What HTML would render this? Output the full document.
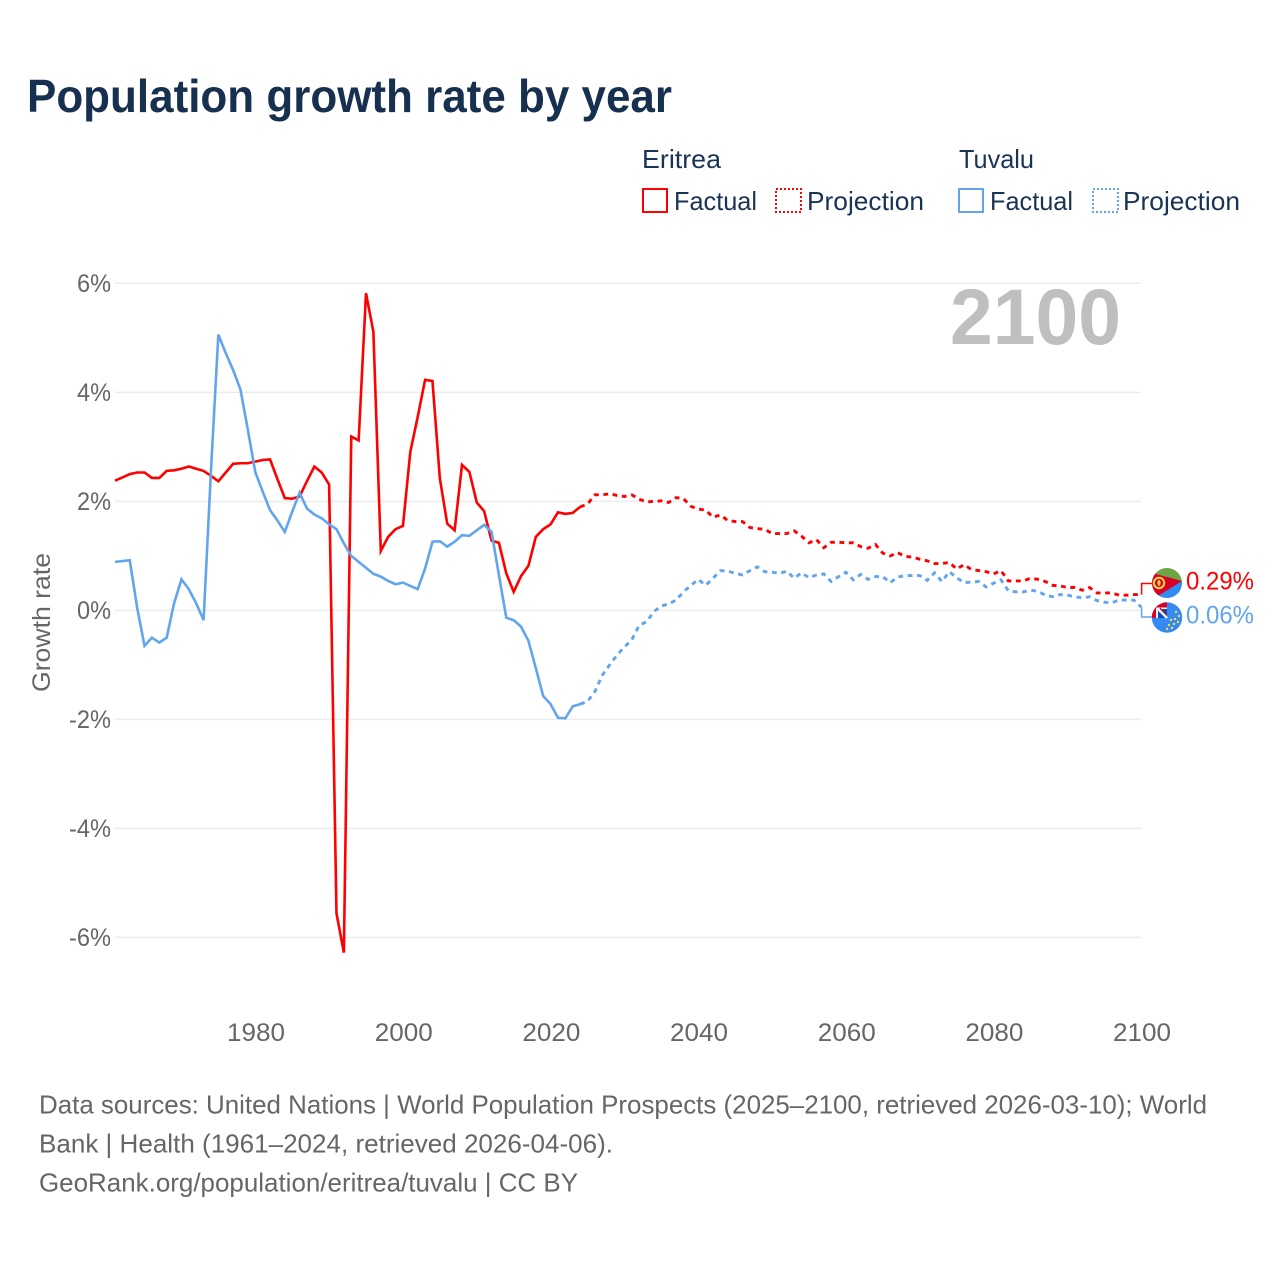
<!DOCTYPE html>
<html lang="en">
<head>
<meta charset="utf-8">
<title>Population growth rate by year</title>
<style>
html,body{margin:0;padding:0;background:#fff;width:1280px;height:1280px;overflow:hidden}
svg{display:block}
text{font-family:"Liberation Sans",sans-serif}
.legend{font-size:26px;fill:#1a3355}
.tick{font-size:25px;fill:#666}
.foot{font-size:26px;fill:#666}
</style>
</head>
<body>
<svg id="chart" xmlns="http://www.w3.org/2000/svg" width="1280" height="1280" viewBox="0 0 1280 1280">
  <rect width="1280" height="1280" fill="#fff"/>
  <text x="27" y="112" font-size="46" font-weight="700" fill="#17304f" textLength="645" lengthAdjust="spacingAndGlyphs">Population growth rate by year</text>

  <g>
    <text class="legend" x="642" y="168" textLength="79" lengthAdjust="spacingAndGlyphs">Eritrea</text>
    <text class="legend" x="959" y="168" textLength="75" lengthAdjust="spacingAndGlyphs">Tuvalu</text>
    <rect x="643" y="189" width="24" height="23" fill="none" stroke="#ff0000" stroke-width="2"/>
    <text class="legend" x="674" y="210" textLength="83" lengthAdjust="spacingAndGlyphs">Factual</text>
    <rect x="776" y="189" width="25" height="23" fill="none" stroke="#ff0000" stroke-width="2" stroke-dasharray="2 2"/>
    <text class="legend" x="807" y="210" textLength="117" lengthAdjust="spacingAndGlyphs">Projection</text>
    <rect x="959" y="189" width="24" height="23" fill="none" stroke="#62a5ee" stroke-width="2"/>
    <text class="legend" x="990" y="210" textLength="83" lengthAdjust="spacingAndGlyphs">Factual</text>
    <rect x="1093" y="189" width="25" height="23" fill="none" stroke="#62a5ee" stroke-width="2" stroke-dasharray="2 2"/>
    <text class="legend" x="1123" y="210" textLength="117" lengthAdjust="spacingAndGlyphs">Projection</text>
  </g>

  <g id="grid"></g>
  <g id="yticks"></g>
  <g id="xticks"></g>

  <text class="tick" transform="translate(50,622.5) rotate(-90)" text-anchor="middle" textLength="139" lengthAdjust="spacingAndGlyphs">Growth rate</text>
  <text x="950" y="344" font-size="79" font-weight="700" fill="#bfbfbf" textLength="171" lengthAdjust="spacingAndGlyphs">2100</text>

  <g id="series"></g>

  <g id="endcaps">
    <g>
      <clipPath id="clipE"><circle cx="1167" cy="583" r="15"/></clipPath>
      <g clip-path="url(#clipE)">
        <rect x="1152" y="568" width="30" height="14" fill="#6da544"/>
        <rect x="1152" y="581" width="30" height="17" fill="#338af3"/>
        <polygon points="1150,572.5 1182,581 1150,601" fill="#d80027"/>
        <circle cx="1159" cy="583" r="5.2" fill="none" stroke="#ffda44" stroke-width="2"/>
        <ellipse cx="1159" cy="583" rx="1.6" ry="3" fill="#ffda44"/>
      </g>
    </g>
    <g>
      <clipPath id="clipT"><circle cx="1167" cy="617.5" r="15.2"/></clipPath>
      <g clip-path="url(#clipT)">
        <rect x="1151" y="602" width="32" height="32" fill="#338af3"/>
        <rect x="1151" y="602" width="16" height="16" fill="#f0f0f0"/>
        <rect x="1151" y="602" width="16" height="5.5" fill="#d80027"/>
        <rect x="1151" y="602" width="5" height="16" fill="#d80027"/>
        <polygon points="1158,609 1167,609 1167,618 1158,618" fill="#0052b4"/>
        <line x1="1157" y1="608" x2="1167" y2="618" stroke="#f0f0f0" stroke-width="2.5"/>
        <line x1="1160" y1="608" x2="1167" y2="615" stroke="#d80027" stroke-width="1.2"/>
        <g fill="#ffda44">
          <circle cx="1176" cy="612" r="1.2"/><circle cx="1179" cy="616" r="1.2"/>
          <circle cx="1175" cy="619" r="1.2"/><circle cx="1171" cy="620" r="1.2"/>
          <circle cx="1178" cy="622" r="1.2"/><circle cx="1174" cy="624" r="1.2"/>
          <circle cx="1169" cy="625" r="1.2"/><circle cx="1172" cy="628" r="1.2"/>
          <circle cx="1167" cy="629" r="1.2"/>
        </g>
      </g>
    </g>
  </g>

  <g>
    <text class="foot" x="39" y="1113.5" textLength="1168" lengthAdjust="spacingAndGlyphs">Data sources: United Nations | World Population Prospects (2025–2100, retrieved 2026-03-10); World</text>
    <text class="foot" x="39" y="1152.5" textLength="574" lengthAdjust="spacingAndGlyphs">Bank | Health (1961–2024, retrieved 2026-04-06).</text>
    <text class="foot" x="39" y="1191.5" textLength="539" lengthAdjust="spacingAndGlyphs">GeoRank.org/population/eritrea/tuvalu | CC BY</text>
  </g>
</svg>
<script>
const factualYears = [1961,1962,1963,1964,1965,1966,1967,1968,1969,1970,1971,1972,1973,1974,1975,1976,1977,1978,1979,1980,1981,1982,1983,1984,1985,1986,1987,1988,1989,1990,1991,1992,1993,1994,1995,1996,1997,1998,1999,2000,2001,2002,2003,2004,2005,2006,2007,2008,2009,2010,2011,2012,2013,2014,2015,2016,2017,2018,2019,2020,2021,2022,2023,2024];
const projectionYears = [2024,2025,2026,2027,2028,2029,2030,2031,2032,2033,2034,2035,2036,2037,2038,2039,2040,2041,2042,2043,2044,2045,2046,2047,2048,2049,2050,2051,2052,2053,2054,2055,2056,2057,2058,2059,2060,2061,2062,2063,2064,2065,2066,2067,2068,2069,2070,2071,2072,2073,2074,2075,2076,2077,2078,2079,2080,2081,2082,2083,2084,2085,2086,2087,2088,2089,2090,2091,2092,2093,2094,2095,2096,2097,2098,2099,2100];
const eritreaFactual = [2.38,2.44,2.50,2.53,2.53,2.43,2.43,2.56,2.57,2.60,2.64,2.60,2.56,2.47,2.37,2.53,2.69,2.70,2.70,2.73,2.76,2.77,2.41,2.06,2.05,2.09,2.37,2.64,2.53,2.31,-5.56,-6.28,3.19,3.12,5.82,5.11,1.09,1.35,1.49,1.55,2.91,3.55,4.23,4.21,2.42,1.59,1.47,2.67,2.54,1.98,1.82,1.28,1.24,0.68,0.34,0.63,0.82,1.35,1.49,1.58,1.80,1.77,1.79,1.90];
const eritreaProjection = [1.90,1.95,2.12,2.12,2.14,2.11,2.09,2.12,2.04,1.99,2.00,2.01,1.98,2.07,2.05,1.91,1.86,1.84,1.71,1.75,1.65,1.63,1.63,1.52,1.50,1.49,1.41,1.41,1.41,1.46,1.36,1.24,1.30,1.15,1.25,1.25,1.24,1.24,1.17,1.14,1.21,1.05,1.00,1.06,0.99,0.98,0.94,0.91,0.86,0.86,0.88,0.76,0.84,0.75,0.73,0.71,0.67,0.73,0.54,0.54,0.54,0.59,0.57,0.53,0.46,0.45,0.42,0.42,0.37,0.42,0.32,0.32,0.32,0.28,0.28,0.29,0.29];
const tuvaluFactual = [0.89,0.905,0.92,0.05,-0.65,-0.50,-0.59,-0.50,0.13,0.57,0.39,0.13,-0.18,2.57,5.06,4.72,4.41,4.05,3.31,2.54,2.18,1.84,1.65,1.44,1.81,2.16,1.87,1.76,1.69,1.58,1.49,1.23,1.00,0.89,0.78,0.67,0.62,0.54,0.48,0.51,0.45,0.39,0.77,1.26,1.27,1.17,1.26,1.38,1.37,1.47,1.57,1.44,0.65,-0.135,-0.18,-0.30,-0.56,-1.06,-1.57,-1.72,-1.97,-1.98,-1.76,-1.72];
const tuvaluProjection = [-1.72,-1.67,-1.49,-1.19,-1.00,-0.82,-0.67,-0.54,-0.27,-0.21,-0.02,0.08,0.12,0.19,0.34,0.46,0.57,0.46,0.59,0.73,0.72,0.68,0.65,0.73,0.80,0.71,0.70,0.68,0.72,0.59,0.69,0.60,0.65,0.67,0.53,0.62,0.70,0.56,0.66,0.57,0.62,0.62,0.51,0.61,0.64,0.64,0.64,0.55,0.69,0.53,0.71,0.60,0.51,0.52,0.53,0.43,0.50,0.56,0.36,0.34,0.34,0.37,0.35,0.28,0.25,0.29,0.28,0.25,0.23,0.25,0.18,0.15,0.14,0.19,0.19,0.19,0.06];
const yTickValues = [6,4,2,0,-2,-4,-6];
const yTickLabels = ['6%','4%','2%','0%','-2%','-4%','-6%'];
const xTickValues = [1980,2000,2020,2040,2060,2080,2100];
const endValueLabels = ['0.29%','0.06%'];

const NS = 'http://www.w3.org/2000/svg';
const xScale = function (year) { return 115 + (year - 1961) * 7.383; };
const yScale = function (v) { return 610.4 - v * 54.5; };
const RED = '#ff0000';
const BLUE = '#62a5ee';

function make(tag, attrs, parent) {
  const el = document.createElementNS(NS, tag);
  Object.keys(attrs).forEach(function (k) { el.setAttribute(k, attrs[k]); });
  parent.appendChild(el);
  return el;
}

const gridGroup = document.getElementById('grid');
const yGroup = document.getElementById('yticks');
yTickValues.forEach(function (v, i) {
  const line = make('line', { x1: 115, x2: 1141, y1: yScale(v), y2: yScale(v), stroke: '#ececec', 'stroke-width': 1.5 }, gridGroup);
  
  
  const label = make('text', { class: 'tick', x: 111, y: yScale(v) + 8.5, 'text-anchor': 'end', textLength: yTickLabels[i].length === 2 ? 34 : 42, lengthAdjust: 'spacingAndGlyphs' }, yGroup);
  
  
  label.textContent = yTickLabels[i];
});

const xGroup = document.getElementById('xticks');
xTickValues.forEach(function (year) {
  const label = make('text', { class: 'tick', x: xScale(year) + 0.8, y: 1041, 'text-anchor': 'middle', textLength: 58, lengthAdjust: 'spacingAndGlyphs' }, xGroup);
  
  
  label.textContent = String(year);
});

function pathFor(years, values) {
  return values.map(function (v, i) {
    return (i ? 'L' : 'M') + xScale(years[i]).toFixed(2) + ' ' + yScale(v).toFixed(2);
  }).join('');
}

const seriesGroup = document.getElementById('series');
const eritreaFactualLine = make('path', { d: pathFor(factualYears, eritreaFactual), fill: 'none', stroke: RED, 'stroke-width': 2.6, 'stroke-linejoin': 'miter' }, seriesGroup);


const tuvaluFactualLine = make('path', { d: pathFor(factualYears, tuvaluFactual), fill: 'none', stroke: BLUE, 'stroke-width': 2.6, 'stroke-linejoin': 'miter' }, seriesGroup);


const eritreaProjectionLine = make('path', { d: pathFor(projectionYears, eritreaProjection), fill: 'none', stroke: RED, 'stroke-width': 2.9, 'stroke-dasharray': '4.8 4.6' }, seriesGroup);


const tuvaluProjectionLine = make('path', { d: pathFor(projectionYears, tuvaluProjection), fill: 'none', stroke: BLUE, 'stroke-width': 2.9, 'stroke-dasharray': '4.8 4.6' }, seriesGroup);



const endGroup = document.getElementById('endcaps');
const lastE = yScale(eritreaProjection[eritreaProjection.length - 1]);
const lastT = yScale(tuvaluProjection[tuvaluProjection.length - 1]);
const connectorE = make('path', { d: 'M1141.6 ' + lastE + 'V583.5H1152', fill: 'none', stroke: RED, 'stroke-width': 1.5 }, endGroup);


const connectorT = make('path', { d: 'M1141.6 ' + lastT + 'V617H1152', fill: 'none', stroke: BLUE, 'stroke-width': 1.5 }, endGroup);


const endE = make('text', { x: 1186, y: 589.5, 'font-size': 25, fill: RED, textLength: 68, lengthAdjust: 'spacingAndGlyphs' }, endGroup);


endE.textContent = endValueLabels[0];
const endT = make('text', { x: 1186, y: 623.5, 'font-size': 25, fill: BLUE, textLength: 68, lengthAdjust: 'spacingAndGlyphs' }, endGroup);


endT.textContent = endValueLabels[1];
</script>
</body>
</html>
